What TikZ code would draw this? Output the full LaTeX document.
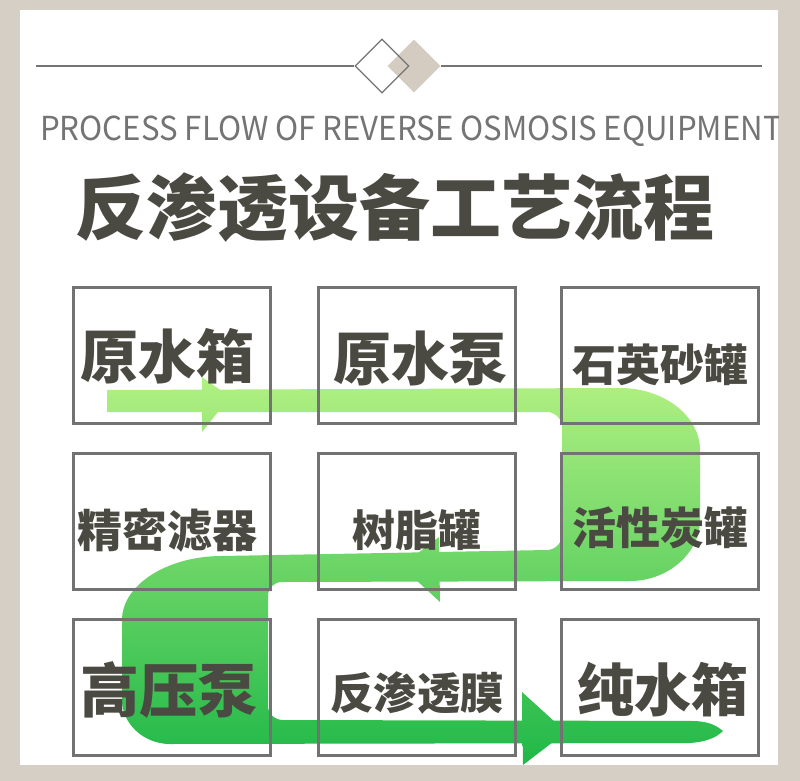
\documentclass[tikz,border=0pt]{standalone}
\usepackage{fontspec}
\newfontfamily\cjk{Noto Sans CJK SC}
\usetikzlibrary{shapes.geometric}
\definecolor{bg}{HTML}{D6CFC6}
\definecolor{diafill}{HTML}{D5CCC1}
\definecolor{linegray}{HTML}{747474}
\definecolor{boxgray}{HTML}{727272}
\definecolor{engray}{HTML}{747474}
\definecolor{txt}{HTML}{4A4A42}
\definecolor{gtop}{HTML}{B2F082}
\definecolor{gbot}{HTML}{1FB848}
\begin{document}
\begin{tikzpicture}[x=1pt,y=-1pt,
  cell/.style={draw=boxgray,line width=3pt,minimum width=197pt,minimum height=136pt,inner sep=0pt},
  lab/.style={text=txt,inner sep=0pt,font=\cjk\bfseries},
  gshade/.style={top color=gtop,bottom color=gbot}]
\useasboundingbox (0,0) rectangle (800,781);
\fill[bg] (0,0) rectangle (800,781);
\fill[white] (20,10) rectangle (778,765);
% header decoration
\node[diamond,fill=diafill,minimum size=53pt,inner sep=0pt] (dia2) at (414,66) {};
\node[diamond,draw=linegray,line width=1.3pt,minimum size=54pt,inner sep=0pt] (dia1) at (382,66) {};
\coordinate (lineL) at (36,66);
\coordinate (lineR) at (762,66);
\draw[linegray,line width=1.3pt] (lineL) -- (dia1.west);
\draw[linegray,line width=1.3pt] (dia2.east) -- (lineR);
% titles
\begin{scope}
\clip (20,10) rectangle (778,765);
\node[anchor=base west,inner sep=0pt,text=engray,font=\cjk\fontsize{33}{33}\selectfont] (en) at (40,140) {\scalebox{0.945}[1]{PROCESS FLOW OF REVERSE OSMOSIS EQUIPMENT}};
\end{scope}
\node[lab,font=\cjk\bfseries\fontsize{71}{71}\selectfont] (title) at (395,208) {反渗透设备工艺流程};
% green flow band
\begin{scope}
\clip (107,390) -- (620,388) .. controls (664,388) and (700,416) .. (700,450) -- (700,520)
  .. controls (700,553) and (668,581) .. (630,581) -- (282,582) .. controls (274,582) and (268,588) .. (268,596)
  -- (268,706) .. controls (268,714) and (275,720) .. (283,720) -- (695,721)
  .. controls (712,722) and (718,727) .. (723,731) .. controls (716,738) and (705,742) .. (690,743)
  -- (170,744) .. controls (144,744) and (122,724) .. (122,700)
  -- (122,620) .. controls (122,585) and (167,556) .. (222,556) -- (547,550)
  .. controls (555,550) and (562,543) .. (562,535)
  -- (562,427) .. controls (562,419) and (555,412) .. (547,412) -- (107,412) -- cycle;
\shade[gshade] (20,377) rectangle (778,766);
\end{scope}
\begin{scope}
\clip (202,377) -- (230,397) -- (202,432) -- cycle;
\shade[gshade] (20,377) rectangle (778,766);
\end{scope}
\begin{scope}
\clip (439,537) -- (401,566) -- (440,602) -- cycle;
\shade[gshade] (20,377) rectangle (778,766);
\end{scope}
\begin{scope}
\clip (522,692) -- (566,732) -- (523,765) -- cycle;
\shade[gshade] (20,377) rectangle (778,766);
\end{scope}
% boxes
\node[cell] (b11) at (171.5,355) {};
\node[cell] (b12) at (416.5,355) {};
\node[cell] (b13) at (660,355) {};
\node[cell] (b21) at (171.5,521.5) {};
\node[cell] (b22) at (416.5,521.5) {};
\node[cell] (b23) at (660,521.5) {};
\node[cell] (b31) at (171.5,687.5) {};
\node[cell] (b32) at (416.5,687.5) {};
\node[cell] (b33) at (660,687.5) {};
% labels
\node[lab,font=\cjk\bfseries\fontsize{58}{58}\selectfont] (t11) at (167,356) {原水箱};
\node[lab,font=\cjk\bfseries\fontsize{58}{58}\selectfont] (t12) at (420,358) {原水泵};
\node[lab,font=\cjk\bfseries\fontsize{44}{44}\selectfont] (t13) at (660,365) {石英砂罐};
\node[lab,font=\cjk\bfseries\fontsize{45}{45}\selectfont] (t21) at (167,530) {精密滤器};
\node[lab,font=\cjk\bfseries\fontsize{43}{43}\selectfont] (t22) at (417,530) {树脂罐};
\node[lab,font=\cjk\bfseries\fontsize{44}{44}\selectfont] (t23) at (660,528) {活性炭罐};
\node[lab,font=\cjk\bfseries\fontsize{59}{59}\selectfont] (t31) at (169,690) {高压泵};
\node[lab,font=\cjk\bfseries\fontsize{43.5}{43.5}\selectfont] (t32) at (417,693) {反渗透膜};
\node[lab,font=\cjk\bfseries\fontsize{57}{57}\selectfont] (t33) at (663,690) {纯水箱};
\end{tikzpicture}
\end{document}
